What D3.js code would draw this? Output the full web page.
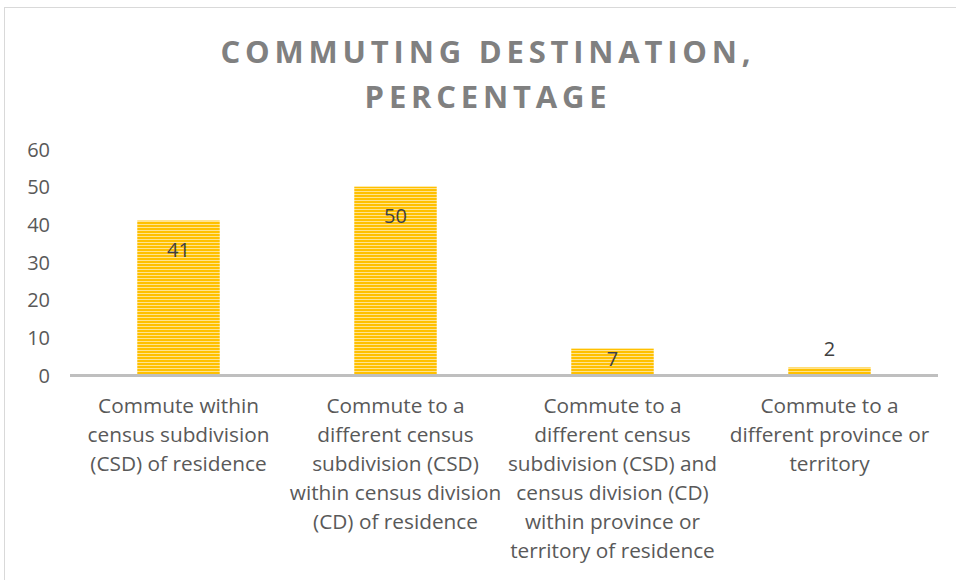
<!DOCTYPE html>
<html>
<head>
<meta charset="utf-8">
<script src="https://cdn.jsdelivr.net/npm/d3@7"></script>
<style>
  body { margin: 0; background: #fff; }
  svg text { font-family: "Open Sans", Lato, sans-serif; }
</style>
</head>
<body>
<div id="chart-area"></div>
<script>
const categories = [
  ["Commute within", "census subdivision", "(CSD) of residence"],
  ["Commute to a", "different census", "subdivision (CSD)", "within census division", "(CD) of residence"],
  ["Commute to a", "different census", "subdivision (CSD) and", "census division (CD)", "within province or", "territory of residence"],
  ["Commute to a", "different province or", "territory"]
];
const values = [41, 50, 7, 2];
const yTicks = [0, 10, 20, 30, 40, 50, 60];
const titleLines = ["COMMUTING DESTINATION,", "PERCENTAGE"];

const W = 956, H = 580;
const plot = {left: 70, right: 938, top: 149, bottom: 375};

const svg = d3.select("#chart-area").append("svg")
  .attr("width", W).attr("height", H);

// stripe pattern for the bars
const defs = svg.append("defs");
const pat = defs.append("pattern")
  .attr("id", "stripes").attr("patternUnits", "userSpaceOnUse")
  .attr("width", 6).attr("height", 3);
pat.append("rect").attr("width", 6).attr("height", 3).attr("fill", "#FFC000");
pat.append("rect").attr("y", 2).attr("width", 6).attr("height", 1).attr("fill", "#FFE38F");

// chart border
svg.append("rect")
  .attr("x", 4.5).attr("y", 7.5).attr("width", W).attr("height", H)
  .attr("fill", "none").attr("stroke", "#D9D9D9").attr("stroke-width", 1);

const x = d3.scaleBand()
  .domain(d3.range(values.length))
  .range([plot.left, plot.right])
  .paddingInner(0.62).paddingOuter(0.31);

const y = d3.scaleLinear().domain([0, 60]).range([plot.bottom, plot.top]);

// y axis labels
const yAxis = d3.axisLeft(y).tickValues(yTicks).tickSize(0).tickPadding(0);
svg.append("g")
  .attr("transform", "translate(50,0)")
  .call(yAxis)
  .call(g => g.select(".domain").remove())
  .call(g => g.selectAll("text")
    .attr("fill", "#595959").attr("font-size", 20).attr("dy", "0.35em"));

// bars
svg.selectAll("rect.bar")
  .data(values)
  .enter().append("rect")
  .attr("class", "bar")
  .attr("x", (d, i) => x(i))
  .attr("y", d => y(d))
  .attr("width", x.bandwidth())
  .attr("height", d => y(0) - y(d))
  .attr("fill", "url(#stripes)");

// baseline
svg.append("line")
  .attr("x1", plot.left).attr("x2", plot.right)
  .attr("y1", y(0) + 0.5).attr("y2", y(0) + 0.5)
  .attr("stroke", "#BFBFBF").attr("stroke-width", 3);

// data labels
svg.selectAll("text.lbl")
  .data(values)
  .enter().append("text")
  .attr("class", "lbl")
  .attr("x", (d, i) => x(i) + x.bandwidth() / 2)
  .attr("y", d => {
    const h = y(0) - y(d);
    if (h > 60) return y(d) + 29;
    if (h > 20) return y(d) + 10;
    return y(d) - 18;
  })
  .attr("dy", "0.35em")
  .attr("text-anchor", "middle")
  .attr("fill", "#404040").attr("font-size", 20)
  .text(d => d);

// category labels
const cat = svg.selectAll("text.cat")
  .data(categories)
  .enter().append("text")
  .attr("class", "cat")
  .attr("text-anchor", "middle")
  .attr("fill", "#595959").attr("font-size", 20.8);
cat.selectAll("tspan")
  .data((d, i) => d.map(t => ({t, i})))
  .enter().append("tspan")
  .attr("x", d => x(d.i) + x.bandwidth() / 2)
  .attr("y", (d, j) => 406 + j * 29)
  .attr("dy", "0.35em")
  .text(d => d.t);

// title
svg.append("text")
  .attr("text-anchor", "middle")
  .attr("fill", "#808080").attr("font-size", 31).attr("font-weight", "bold")
  .attr("letter-spacing", 4.8)
  .selectAll("tspan")
  .data(titleLines)
  .enter().append("tspan")
  .attr("x", 488).attr("y", (d, i) => 52 + i * 45)
  .attr("dy", "0.35em")
  .text(d => d);
</script>
</body>
</html>
